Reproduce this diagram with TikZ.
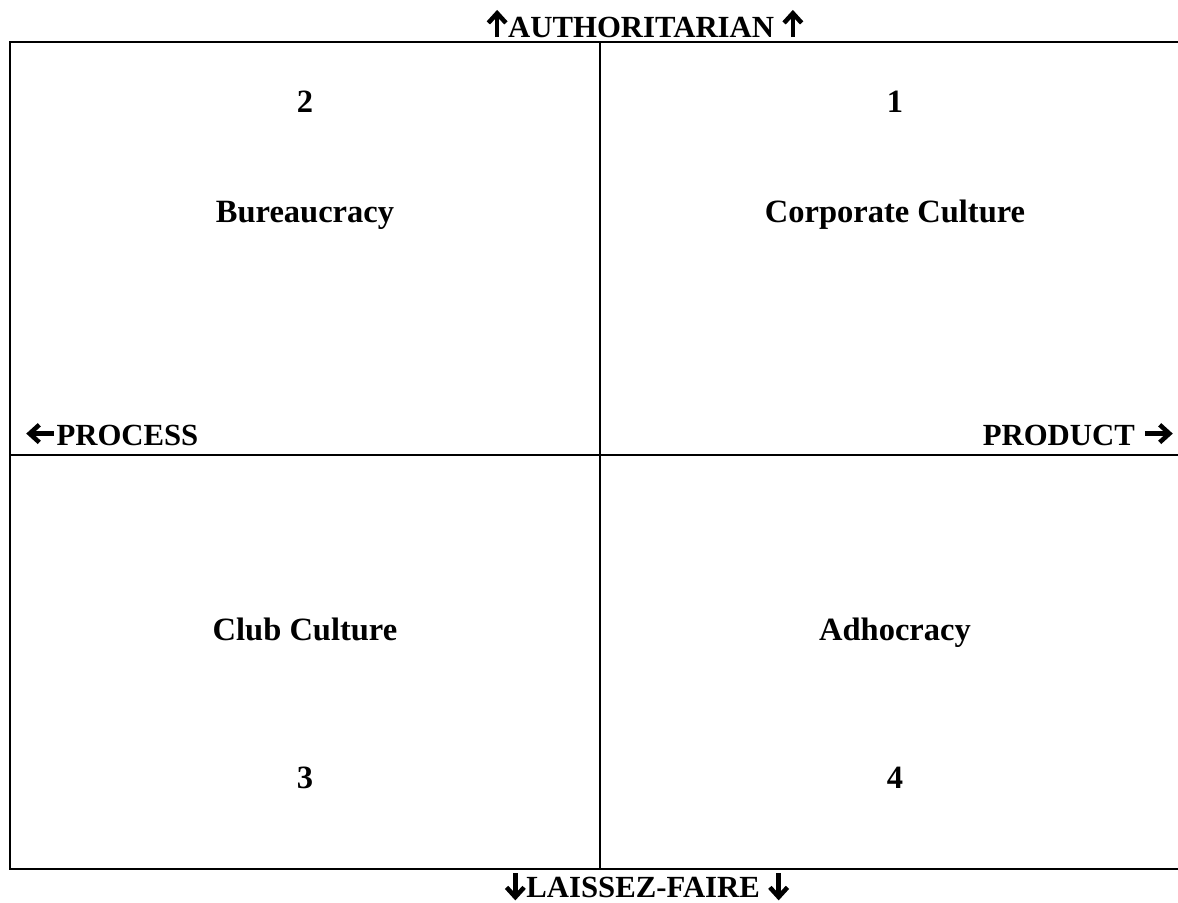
\documentclass[tikz,border=0pt]{standalone}
\usepackage{fontspec}
\setmainfont{Liberation Serif}
% heavy arrows drawn inline with the labels
\newcommand{\uarr}{\tikz[baseline=0pt,line width=2.6pt,line cap=butt,line join=miter]{\draw (0pt,0pt) -- (0pt,13.5pt); \draw (-5pt,8pt) -- (0pt,13.5pt) -- (5pt,8pt);}}
\newcommand{\darr}{\tikz[baseline=0pt,line width=2.6pt,line cap=butt,line join=miter]{\draw (0pt,13.5pt) -- (0pt,0pt); \draw (-5pt,5.5pt) -- (0pt,0pt) -- (5pt,5.5pt);}}
\newcommand{\larr}{\tikz[baseline=0pt,line width=2.6pt,line cap=butt,line join=miter]{\draw (14pt,6.5pt) -- (0pt,6.5pt); \draw (5.5pt,1.5pt) -- (0pt,6.5pt) -- (5.5pt,11.5pt);}}
\newcommand{\rarr}{\tikz[baseline=0pt,line width=2.6pt,line cap=butt,line join=miter]{\draw (0pt,6.5pt) -- (14pt,6.5pt); \draw (8.5pt,1.5pt) -- (14pt,6.5pt) -- (8.5pt,11.5pt);}}

\begin{document}
\begin{tikzpicture}[x=0.02cm,y=-0.02cm,
	lbl/.style={inner sep=0pt,anchor=base,font=\fontsize{18.5}{22}\selectfont\bfseries},
	axis/.style={lbl,font=\fontsize{17.5}{21}\selectfont\bfseries},
	frame/.style={line width=1.3pt}]
	\useasboundingbox (0,0) rectangle (1178,903);
	% frame corners and midpoints
	\coordinate (tl) at (10,42);
	\coordinate (tr) at (1178,42);
	\coordinate (bl) at (10,869);
	\coordinate (br) at (1178,869);
	\coordinate (tm) at (600,42);
	\coordinate (bm) at (600,869);
	\coordinate (ml) at (10,455);
	\coordinate (mr) at (1178,455);
	\draw[frame] (tr) -- (tl) -- (bl) -- (br);
	\draw[frame] (tm) -- (bm);
	\draw[frame] (ml) -- (mr);
	% axis labels
	\node[axis] (auth) at (645,37) {\uarr AUTHORITARIAN \uarr};
	\node[axis] (laissez) at (647,897) {\darr LAISSEZ-FAIRE \darr};
	\node[axis,anchor=base west] (process) at (27,445) {\larr PROCESS};
	\node[axis,anchor=base east] (product) at (1172,445) {PRODUCT \rarr};
	% quadrants
	\node[lbl] (two) at (305,112) {2};
	\node[lbl] (bureau) at (305,222) {Bureaucracy};
	\node[lbl] (one) at (895,112) {1};
	\node[lbl] (corp) at (895,222) {Corporate Culture};
	\node[lbl] (club) at (305,640) {Club Culture};
	\node[lbl] (three) at (305,788) {3};
	\node[lbl] (adhoc) at (895,640) {Adhocracy};
	\node[lbl] (four) at (895,788) {4};
\end{tikzpicture}
\end{document}
